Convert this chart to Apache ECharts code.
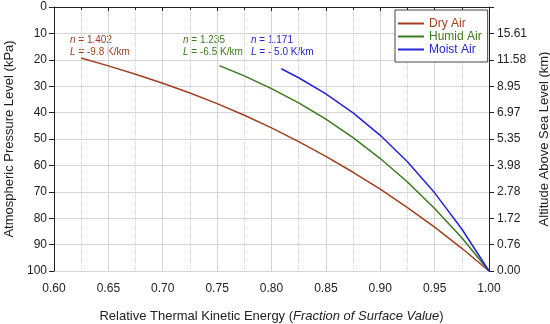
<!DOCTYPE html>
<html><head><meta charset="utf-8">
<script src="https://cdn.jsdelivr.net/npm/echarts@6/dist/echarts.min.js"></script>
<style>html,body{margin:0;padding:0;background:#fff}#c{width:550px;height:324px}</style>
</head><body><div id="c"></div>
<script>
const seriesNames = ['Dry Air', 'Humid Air', 'Moist Air'];
const colors = ['#A0401E', '#3C7A1E', '#2424D8'];
const dryX = [0.625, 0.65, 0.675, 0.70, 0.725, 0.75, 0.775, 0.80, 0.825, 0.85, 0.875, 0.90, 0.925, 0.95, 0.975, 1.00];
const dryP = [19.3, 22.3, 25.5, 28.9, 32.6, 36.6, 41.0, 45.8, 51.0, 56.6, 62.6, 69.0, 76.0, 83.4, 91.4, 100];
const humidX = [0.752, 0.775, 0.80, 0.825, 0.85, 0.875, 0.90, 0.925, 0.95, 0.975, 1.00];
const humidP = [22.2, 26.1, 30.9, 36.3, 42.5, 49.5, 57.4, 66.3, 76.3, 87.4, 100];
const moistX = [0.809, 0.825, 0.85, 0.875, 0.90, 0.925, 0.95, 0.975, 1.00];
const moistP = [23.4, 26.8, 32.9, 40.1, 48.6, 58.6, 70.4, 84.1, 100];
const altitudeLabels = ['', '15.61', '11.58', '8.95', '6.97', '5.35', '3.98', '2.78', '1.72', '0.76', '0.00'];
const annotations = [
  {n: '1.402', L: '-9.8 K/km'},
  {n: '1.235', L: '-6.5 K/km'},
  {n: '1.171', L: '- 5.0 K/km'}
];

function pairs(xs, ys) { return xs.map((x, i) => [x, ys[i]]); }
const font = 'Liberation Sans, Arial, sans-serif';
const chart = echarts.init(document.getElementById('c'));
const axisLine = {show: true, lineStyle: {color: '#222', width: 1}};
chart.setOption({
  animation: false,
  textStyle: {fontFamily: font},
  grid: {left: 54, right: 61, top: 7, bottom: 53, containLabel: false, outerBoundsMode: 'none'},
  legend: {
    orient: 'vertical', left: 395, top: 10,
    backgroundColor: '#fff', borderColor: '#444', borderWidth: 1,
    padding: [7, 6, 6, 3], itemGap: 0,
    itemWidth: 26, itemHeight: 2, icon: 'rect',
    textStyle: {fontSize: 12, lineHeight: 13, fontFamily: font},
    data: seriesNames.map((n, i) => ({name: n, textStyle: {color: colors[i]}}))
  },
  xAxis: [{
    type: 'value', min: 0.6, max: 1.0, interval: 0.05,
    name: '{a|Relative Thermal Kinetic Energy (}{b|Fraction of Surface Value}{a|)}',
    nameLocation: 'middle', nameGap: 39,
    nameTextStyle: {rich: {a: {fontSize: 13, color: '#222', fontFamily: font}, b: {fontSize: 13, color: '#222', fontStyle: 'italic', fontFamily: font}}},
    axisLine: axisLine,
    axisTick: {show: true, inside: false, length: 4, lineStyle: {color: '#222'}},
    minorTick: {show: true, splitNumber: 2, length: 3, lineStyle: {color: '#222'}},
    axisLabel: {fontSize: 12, color: '#222', margin: 12, formatter: v => v.toFixed(2)},
    splitLine: {show: true, lineStyle: {color: '#d4d4d4', width: 1}},
    minorSplitLine: {show: true, lineStyle: {color: '#d4d4d4', width: 1, type: 'dotted'}}
  }, {
    type: 'value', position: 'top', min: 0.6, max: 1.0, interval: 0.05,
    axisLine: axisLine,
    axisTick: {show: true, inside: true, length: 4, lineStyle: {color: '#222'}},
    axisLabel: {show: false}, splitLine: {show: false}
  }],
  yAxis: [{
    type: 'value', inverse: true, min: 0, max: 100, interval: 10,
    name: 'Atmospheric Pressure Level (kPa)', nameLocation: 'middle', nameGap: 34,
    nameTextStyle: {fontSize: 13, color: '#222', fontFamily: font},
    axisLine: axisLine,
    axisTick: {show: true, length: 5, lineStyle: {color: '#222'}},
    axisLabel: {fontSize: 12, color: '#222', margin: 7},
    splitLine: {show: true, lineStyle: {color: '#d4d4d4', width: 1}}
  }, {
    type: 'value', inverse: true, min: 0, max: 100, interval: 10, position: 'right',
    name: 'Altitude Above Sea Level (km)', nameLocation: 'middle', nameGap: 44, nameRotate: 90,
    nameTextStyle: {fontSize: 13, color: '#222', fontFamily: font},
    axisLine: axisLine,
    axisTick: {show: true, length: 5, lineStyle: {color: '#222'}},
    axisLabel: {fontSize: 12, color: '#222', margin: 8, formatter: v => altitudeLabels[Math.round(v / 10)]},
    splitLine: {show: false}
  }],
  series: [
    {name: seriesNames[0], type: 'line', showSymbol: false, data: pairs(dryX, dryP), lineStyle: {color: colors[0], width: 1.5}, itemStyle: {color: colors[0]}},
    {name: seriesNames[1], type: 'line', showSymbol: false, data: pairs(humidX, humidP), lineStyle: {color: colors[1], width: 1.5}, itemStyle: {color: colors[1]}},
    {name: seriesNames[2], type: 'line', showSymbol: false, data: pairs(moistX, moistP), lineStyle: {color: colors[2], width: 1.5}, itemStyle: {color: colors[2]}}
  ],
  graphic: annotations.map((a, i) => ({
    type: 'text', left: [70, 183, 251][i], top: 34,
    style: {
      text: '{i|n} = ' + a.n + '\n{i|L} = ' + a.L,
      fill: colors[i], fontSize: 10, fontFamily: font, lineHeight: 12,
      rich: {i: {fontStyle: 'italic', fill: colors[i], fontSize: 10, fontFamily: font, lineHeight: 12}}
    }
  }))
});
</script></body></html>
